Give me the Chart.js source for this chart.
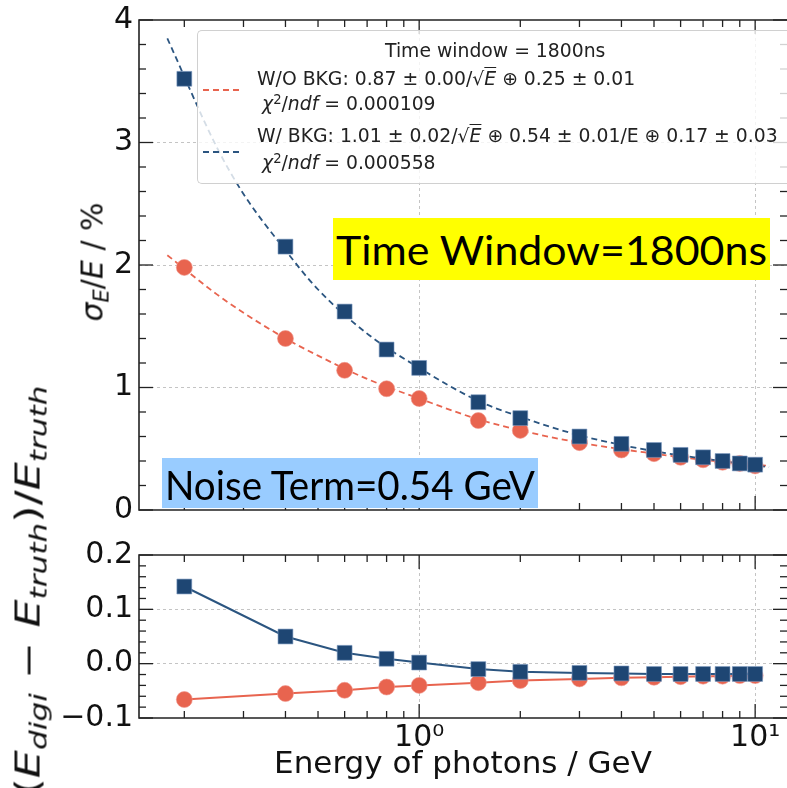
<!DOCTYPE html>
<html>
<head>
<meta charset="utf-8">
<script src="https://cdn.jsdelivr.net/npm/chart.js@4.4.1/dist/chart.umd.min.js"></script>
<style>
  html, body { margin:0; width:787px; height:788px; overflow:hidden; background:#fff; }
  #wrap { position:absolute; left:0; top:0; width:787px; height:788px; overflow:hidden; font-family:"DejaVu Sans", sans-serif; }
  canvas { position:absolute; left:0; }
  #top { top:0; }
  #bot { top:530px; }
  .abs { position:absolute; white-space:nowrap; line-height:1; }
  #legendBox { position:absolute; left:197px; top:30px; width:600px; height:152px; border:1px solid #d0d0d0; border-right:none; border-radius:5px 0 0 5px; background:rgba(255,255,255,0.8); }
  .leg { font-size:18.8px; color:#222; }
  .sup { font-size:0.7em; position:relative; top:-0.45em; }
  .sub { font-size:0.7em; position:relative; top:0.3em; }
  .ov { text-decoration:overline; font-style:italic; }
  .dash { position:absolute; height:2px; width:40px; }
  .box { position:absolute; overflow:visible; }
  .boxtxt { position:absolute; left:3px; font-family:Lato, "Open Sans", sans-serif; font-size:40px; line-height:1; color:#000; transform-origin:0 0; white-space:nowrap; }
  .ylab { position:absolute; line-height:1; white-space:nowrap; color:#111; transform-origin:50% 50%; }
</style>
</head>
<body>
<div id="wrap">
<canvas id="top" width="787" height="530" style="width:787px;height:530px"></canvas>
<canvas id="bot" width="787" height="258" style="width:787px;height:258px"></canvas>

<div id="legendBox"></div>
<div class="dash" style="left:203px;top:89px;background:repeating-linear-gradient(90deg,#e8644f 0 6px,transparent 6px 10px)"></div>
<div class="dash" style="left:203px;top:151px;background:repeating-linear-gradient(90deg,#2b5580 0 6px,transparent 6px 10px)"></div>
<div class="abs leg" style="left:385px;top:42px">Time window = 1800ns</div>
<div class="abs leg" style="left:257px;top:70px">W/O BKG: 0.87 ± 0.00/√<span class="ov">E</span> ⊕ 0.25 ± 0.01</div>
<div class="abs leg" style="left:262px;top:95px"><i>χ</i><span class="sup">2</span>/<i>ndf</i> = 0.000109</div>
<div class="abs leg" style="left:257px;top:127px">W/ BKG: 1.01 ± 0.02/√<span class="ov">E</span> ⊕ 0.54 ± 0.01/E ⊕ 0.17 ± 0.03</div>
<div class="abs leg" style="left:262px;top:154px"><i>χ</i><span class="sup">2</span>/<i>ndf</i> = 0.000558</div>

<div class="box" style="left:333px;top:218px;width:437px;height:62px;background:#ffff00">
  <div class="boxtxt" id="t1" style="top:12px">Time Window=1800ns</div>
</div>
<div class="box" style="left:162px;top:458px;width:376px;height:50px;background:#99ccff">
  <div class="boxtxt" id="t2" style="top:7px">Noise Term=0.54 GeV</div>
</div>

<div class="ylab" id="yl1" style="font-size:30px"><i>σ</i><span class="sub"><i>E</i></span>/<i>E</i> / %</div>
<div class="ylab" id="yl2" style="font-size:33px">(<i>E</i><span class="sub"><i>digi</i></span> − <i>E</i><span class="sub"><i>truth</i></span>)/<i>E</i><span class="sub"><i>truth</i></span></div>
</div>

<script>
// photon energies (GeV)
const energy = [0.2, 0.4, 0.6, 0.8, 1.0, 1.5, 2, 3, 4, 5, 6, 7, 8, 9, 10];
// sigma_E/E in %
const resNoBkg = [1.98, 1.40, 1.14, 0.99, 0.91, 0.73, 0.65, 0.55, 0.49, 0.46, 0.43, 0.41, 0.39, 0.38, 0.36];
const resBkg   = [3.52, 2.15, 1.62, 1.31, 1.16, 0.88, 0.75, 0.60, 0.54, 0.49, 0.45, 0.43, 0.40, 0.38, 0.37];
// fit curves
const fitE      = [0.178, 0.25, 0.3, 0.4, 0.5, 0.7, 1.0, 1.5, 2, 3, 5, 7, 11];
const fitNoBkg  = [2.08, 1.76, 1.61, 1.40, 1.26, 1.07, 0.91, 0.74, 0.65, 0.55, 0.46, 0.41, 0.36];
const fitBkg    = [3.85, 2.96, 2.58, 2.12, 1.80, 1.44, 1.16, 0.89, 0.76, 0.61, 0.48, 0.42, 0.35];
// (E_digi - E_truth)/E_truth
const devNoBkg = [-0.066, -0.055, -0.049, -0.043, -0.040, -0.035, -0.031, -0.028, -0.026, -0.025, -0.024, -0.023, -0.023, -0.022, -0.022];
const devBkg   = [0.142, 0.050, 0.020, 0.009, 0.002, -0.010, -0.015, -0.017, -0.018, -0.019, -0.019, -0.019, -0.019, -0.019, -0.019];
// log axis ticks
const xMajor = [1, 10];
const xMinor = [0.2, 0.3, 0.4, 0.5, 0.6, 0.7, 0.8, 0.9, 2, 3, 4, 5, 6, 7, 8, 9];
const xTickLabels = {1: '10⁰', 10: '10¹'};

const RED = '#e8644f', BLUE = '#1e4673', BLUE_LINE = '#2b5580';
const GRID = '#c4c4c4';

function pts(xs, ys){ return xs.map((x,i)=>({x:x, y:ys[i]})); }
function range(a, b, step){ let out=[]; for(let i=0;a+i*step<=b+1e-9;i++) out.push(+(a+i*step).toFixed(4)); return out; }

// inward ticks + frame like matplotlib (right spine falls outside the picture)
const frameTicks = {
  id: 'frameTicks',
  afterDraw(chart, args, o) {
    const {ctx, chartArea:a, scales:{x, y}} = chart;
    ctx.save();
    ctx.strokeStyle = '#222';
    ctx.lineWidth = 1.3;
    const tick = (x1,y1,x2,y2)=>{ ctx.beginPath(); ctx.moveTo(x1,y1); ctx.lineTo(x2,y2); ctx.stroke(); };
    xMinor.forEach(v=>{ const px=x.getPixelForValue(v); tick(px,a.bottom,px,a.bottom-7); tick(px,a.top,px,a.top+7); });
    xMajor.forEach(v=>{ const px=x.getPixelForValue(v); tick(px,a.bottom,px,a.bottom-14); tick(px,a.top,px,a.top+14); });
    o.yMinor.forEach(v=>{ const py=y.getPixelForValue(v); tick(a.left,py,a.left+7,py); tick(a.right,py,a.right-7,py); });
    o.yMajor.forEach(v=>{ const py=y.getPixelForValue(v); tick(a.left,py,a.left+14,py); tick(a.right,py,a.right-14,py); });
    ctx.lineWidth = 1.6;
    ctx.beginPath();
    ctx.moveTo(a.right + 4, a.top); ctx.lineTo(a.left, a.top); ctx.lineTo(a.left, a.bottom); ctx.lineTo(a.right + 4, a.bottom);
    ctx.stroke();
    ctx.restore();
  }
};

function xScale(showLabels, extra){
  return Object.assign({
    type: 'logarithmic', min: 0.1466, max: 12.44,
    afterBuildTicks: s => { s.ticks = xMinor.concat(xMajor).sort((p,q)=>p-q).map(v=>({value:v})); },
    ticks: { display: showLabels, autoSkip:false, maxRotation:0, padding:2, color:'#111',
             font:{family:'DejaVu Sans', size:30},
             callback: v => xTickLabels[v] || '' },
    grid: { drawTicks:false, lineWidth:1,
            color: c => (c.tick && xMajor.includes(c.tick.value)) ? GRID : 'rgba(0,0,0,0)' },
    border: { display:false, dash:[3,3] }
  }, extra);
}

function yGrid(majors){
  return { drawTicks:false, lineWidth:1,
           color: c => (c.tick && majors.some(m=>Math.abs(m-c.tick.value)<1e-6)) ? GRID : 'rgba(0,0,0,0)' };
}

// small lineHeight keeps the y labels from pushing the plot area in
const yFont = {family:'DejaVu Sans', size:30, lineHeight:0.6};

const common = { responsive:false, animation:false, events:[],
  plugins:{ legend:{display:false}, tooltip:{enabled:false} } };

new Chart(document.getElementById('top'), {
  type: 'scatter',
  data: { datasets: [
    { data: pts(energy, resBkg), pointStyle:'rect', pointRadius:10.5, backgroundColor:BLUE, borderColor:'rgba(120,150,190,0.6)', borderWidth:1, order:0 },
    { data: pts(energy, resNoBkg), pointStyle:'circle', pointRadius:8, backgroundColor:RED, borderColor:'rgba(240,150,140,0.6)', borderWidth:1, order:1 },
    { data: pts(fitE, fitBkg), showLine:true, pointRadius:0, borderColor:BLUE_LINE, borderWidth:1.8, borderDash:[6,4], cubicInterpolationMode:'monotone', order:2 },
    { data: pts(fitE, fitNoBkg), showLine:true, pointRadius:0, borderColor:RED, borderWidth:1.8, borderDash:[6,4], cubicInterpolationMode:'monotone', order:3 }
  ]},
  options: Object.assign({}, common, {
    layout: { autoPadding:false, padding:{ top:20, right:-2, bottom:0, left:0 } },
    scales: {
      x: xScale(false, { afterFit: s => { s.height = 20; } }),
      y: { min:0, max:4, afterFit: s => { s.width = 139; },
           ticks:{ stepSize:1, padding:6, color:'#111', font:yFont },
           grid: yGrid([1,2,3]), border:{display:false, dash:[3,3]} }
    },
    plugins: Object.assign({}, common.plugins, {
      frameTicks: { yMajor:[0,1,2,3,4], yMinor: range(0,4,0.2).filter(v=>Math.abs(v-Math.round(v))>1e-6) }
    })
  }),
  plugins: [frameTicks]
});

new Chart(document.getElementById('bot'), {
  type: 'scatter',
  data: { datasets: [
    { data: pts(energy, devBkg), showLine:true, pointStyle:'rect', pointRadius:10.5, backgroundColor:BLUE, borderColor:BLUE_LINE, pointBorderColor:'rgba(120,150,190,0.6)', pointBorderWidth:1, borderWidth:2, order:0 },
    { data: pts(energy, devNoBkg), showLine:true, pointStyle:'circle', pointRadius:8, backgroundColor:RED, borderColor:RED, pointBorderColor:'rgba(240,150,140,0.6)', pointBorderWidth:1, borderWidth:2, order:1 }
  ]},
  options: Object.assign({}, common, {
    layout: { autoPadding:false, padding:{ top:25, right:-2, bottom:0, left:0 } },
    scales: {
      x: xScale(true, { afterFit: s => { s.height = 70; },
           title:{ display:true, text:'Energy of photons / GeV', color:'#111', font:{family:'DejaVu Sans', size:31}, padding:{top:0, bottom:4} } }),
      y: { min:-0.1, max:0.2, afterFit: s => { s.width = 139; },
           ticks:{ stepSize:0.1, padding:6, color:'#111', font:yFont,
                   callback: v => { const t = Math.abs(v) < 1e-9 ? '0.0' : v.toFixed(1); return t.replace('-', '−'); } },
           grid: yGrid([0, 0.1]), border:{display:false, dash:[3,3]} }
    },
    plugins: Object.assign({}, common.plugins, {
      frameTicks: { yMajor:[-0.1,0,0.1,0.2], yMinor: range(-0.1,0.2,0.02).filter(v=>Math.abs(v*10-Math.round(v*10))>1e-6) }
    })
  }),
  plugins: [frameTicks]
});

// stretch overlay texts to the widths seen in the picture
function fitWidth(id, w){
  const el = document.getElementById(id);
  const r = el.getBoundingClientRect().width;
  el.style.transform = 'scaleX(' + (w / r) + ')';
}
fitWidth('t1', 431);
fitWidth('t2', 370);

// rotated axis labels centred on a point, optionally stretched to a length
function placeRot(id, cx, cy, len){
  const el = document.getElementById(id);
  const w = el.offsetWidth, h = el.offsetHeight;
  el.style.left = (cx - w/2) + 'px';
  el.style.top = (cy - h/2) + 'px';
  el.style.transform = 'rotate(-90deg)' + (len ? ' scaleX(' + (len / w) + ')' : '');
}
placeRot('yl1', 92, 262);
placeRot('yl2', 28, 590, 410);
</script>
</body>
</html>
